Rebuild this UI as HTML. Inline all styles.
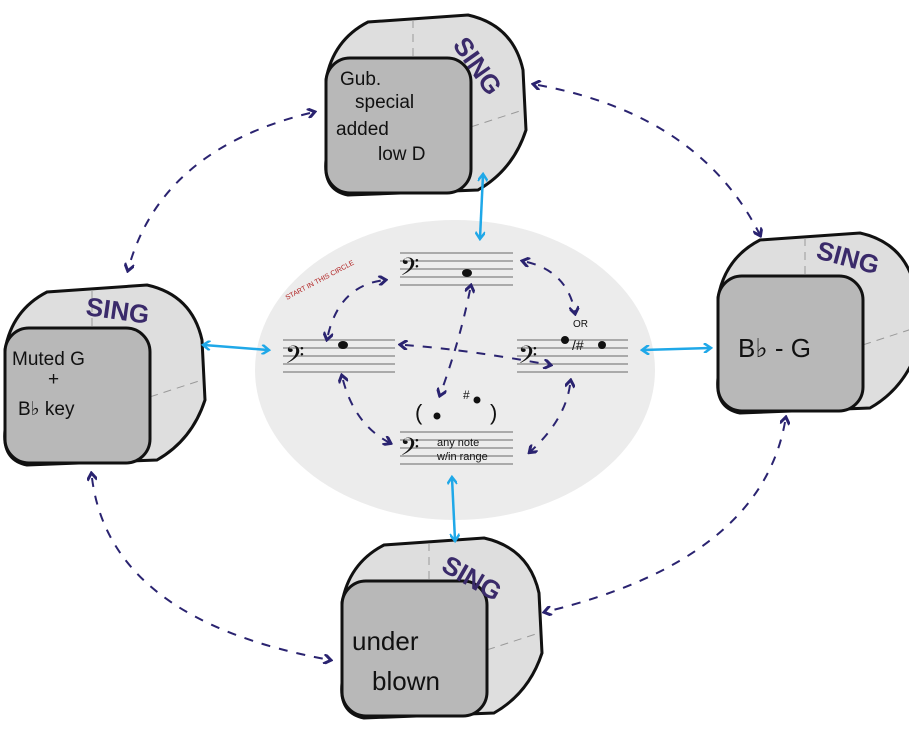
<!DOCTYPE html>
<html><head><meta charset="utf-8"><style>
html,body{margin:0;padding:0;background:#fff;width:909px;height:731px;overflow:hidden}
svg{display:block}
.hw{font-family:"Liberation Sans",sans-serif;fill:#111}
.sing{font-family:"Liberation Sans",sans-serif;font-weight:bold;fill:#3a2a6a;font-size:26px}
.dash{fill:none;stroke:#2a2370;stroke-width:2;stroke-dasharray:9 9}
.blue{fill:none;stroke:#1fa8e8;stroke-width:2.5}
.st line{stroke:#aaa;stroke-width:2}
</style></head><body>
<svg width="909" height="731" viewBox="0 0 909 731">
<defs>
<marker id="ah" markerWidth="10" markerHeight="10" refX="7" refY="5" orient="auto" markerUnits="userSpaceOnUse"><path d="M1,0 L8,5 L1,10" fill="none" stroke="#2a2370" stroke-width="3"/></marker>
<marker id="ahs" markerWidth="10" markerHeight="10" refX="3" refY="5" orient="auto-start-reverse" markerUnits="userSpaceOnUse"><path d="M1,0 L8,5 L1,10" fill="none" stroke="#2a2370" stroke-width="3"/></marker>
<marker id="bh" markerWidth="10" markerHeight="10" refX="7" refY="5" orient="auto-start-reverse" markerUnits="userSpaceOnUse"><path d="M1,0 L8,5 L1,10" fill="none" stroke="#1fa8e8" stroke-width="2.5"/></marker>
<g id="cube">
<path d="M8,70 Q15,30 50,12 L150,5 Q195,15 205,60 L208,120 Q195,160 160,180 L30,185 Q5,180 8,150 Z" fill="#dedede" stroke="#111" stroke-width="3"/>
<line x1="95" y1="10" x2="95" y2="100" stroke="#999" stroke-dasharray="8 6"/>
<line x1="20" y1="160" x2="205" y2="100" stroke="#999" stroke-dasharray="8 6"/>
<rect x="8" y="48" width="145" height="135" rx="24" fill="#b8b8b8" stroke="#111" stroke-width="3"/>
</g>
</defs>
<ellipse cx="455" cy="370" rx="200" ry="150" fill="#ececec"/>
<!-- cubes -->
<use href="#cube" x="318" y="10"/>
<use href="#cube" x="-3" y="280"/>
<use href="#cube" x="710" y="228"/>
<use href="#cube" x="334" y="533"/>
<text class="sing" transform="translate(452,45) rotate(55)">SING</text>
<text class="sing" x="85" y="315" transform="rotate(8 85 315)">SING</text>
<text class="sing" transform="translate(815,258) rotate(15)">SING</text>
<text class="sing" transform="translate(440,570) rotate(30)">SING</text>
<text class="hw" font-size="19"><tspan x="340" y="85">Gub.</tspan><tspan x="355" y="108">special</tspan><tspan x="336" y="135">added</tspan><tspan x="378" y="160">low D</tspan></text>
<text class="hw" font-size="19"><tspan x="12" y="365">Muted G</tspan><tspan x="48" y="385">+</tspan><tspan x="18" y="415">B♭ key</tspan></text>
<text class="hw" font-size="26" x="738" y="357">B♭ - G</text>
<text class="hw" font-size="26"><tspan x="352" y="650">under</tspan><tspan x="372" y="690">blown</tspan></text>
<!-- staves -->
<g class="st">
<line x1="400" y1="253" x2="513" y2="253"/><line x1="400" y1="261" x2="513" y2="261"/><line x1="400" y1="269" x2="513" y2="269"/><line x1="400" y1="277" x2="513" y2="277"/><line x1="400" y1="285" x2="513" y2="285"/>
<line x1="283" y1="340" x2="395" y2="340"/><line x1="283" y1="348" x2="395" y2="348"/><line x1="283" y1="356" x2="395" y2="356"/><line x1="283" y1="364" x2="395" y2="364"/><line x1="283" y1="372" x2="395" y2="372"/>
<line x1="517" y1="340" x2="628" y2="340"/><line x1="517" y1="348" x2="628" y2="348"/><line x1="517" y1="356" x2="628" y2="356"/><line x1="517" y1="364" x2="628" y2="364"/><line x1="517" y1="372" x2="628" y2="372"/>
<line x1="400" y1="432" x2="513" y2="432"/><line x1="400" y1="440" x2="513" y2="440"/><line x1="400" y1="448" x2="513" y2="448"/><line x1="400" y1="456" x2="513" y2="456"/><line x1="400" y1="464" x2="513" y2="464"/>
</g>
<g class="hw" font-size="30"><text x="400" y="280">𝄢</text><text x="285" y="368">𝄢</text><text x="518" y="368">𝄢</text><text x="400" y="460">𝄢</text></g>
<ellipse cx="467" cy="273" rx="5" ry="4" fill="#111"/>
<ellipse cx="343" cy="345" rx="5" ry="4" fill="#111"/>
<ellipse cx="565" cy="340" rx="4" ry="4" fill="#111"/><ellipse cx="602" cy="345" rx="4" ry="4" fill="#111"/>
<text class="hw" font-size="14" x="572" y="350">/#</text><text class="hw" font-size="10" x="573" y="327">OR</text>
<text class="hw" font-size="22" x="415" y="420">(</text><text class="hw" font-size="22" x="490" y="420">)</text>
<ellipse cx="437" cy="416" rx="3.5" ry="3.5" fill="#111"/><ellipse cx="477" cy="400" rx="3.5" ry="3.5" fill="#111"/>
<text class="hw" font-size="12" x="463" y="399">#</text>
<text class="hw" font-size="11"><tspan x="437" y="446">any note</tspan><tspan x="437" y="460">w/in range</tspan></text>
<text font-family="Liberation Sans,sans-serif" font-size="7" fill="#b02020" transform="translate(287,300) rotate(-28)">START IN THIS CIRCLE</text>
<!-- inner dashed -->
<path class="dash" d="M328,335 Q340,285 385,280" marker-start="url(#ahs)" marker-end="url(#ah)"/>
<path class="dash" d="M527,262 Q568,272 575,313" marker-start="url(#ahs)" marker-end="url(#ah)"/>
<path class="dash" d="M405,345 Q470,350 550,365" marker-start="url(#ahs)" marker-end="url(#ah)"/>
<path class="dash" d="M470,290 Q460,340 440,395" marker-start="url(#ahs)" marker-end="url(#ah)"/>
<path class="dash" d="M343,380 Q355,425 390,443" marker-start="url(#ahs)" marker-end="url(#ah)"/>
<path class="dash" d="M570,385 Q565,420 530,452" marker-start="url(#ahs)" marker-end="url(#ah)"/>
<!-- outer dashed -->
<path class="dash" d="M310,113 Q160,150 128,270" marker-start="url(#ahs)" marker-end="url(#ah)"/>
<path class="dash" d="M538,85 Q700,115 760,235" marker-start="url(#ahs)" marker-end="url(#ah)"/>
<path class="dash" d="M785,422 Q760,560 545,612" marker-start="url(#ahs)" marker-end="url(#ah)"/>
<path class="dash" d="M92,478 Q110,620 330,660" marker-start="url(#ahs)" marker-end="url(#ah)"/>
<!-- blue -->
<path class="blue" d="M483,175 L480,238" marker-start="url(#bh)" marker-end="url(#bh)"/>
<path class="blue" d="M204,345 L268,350" marker-start="url(#bh)" marker-end="url(#bh)"/>
<path class="blue" d="M643,350 L710,348" marker-start="url(#bh)" marker-end="url(#bh)"/>
<path class="blue" d="M452,478 L455,540" marker-start="url(#bh)" marker-end="url(#bh)"/>
</svg>
</body></html>
